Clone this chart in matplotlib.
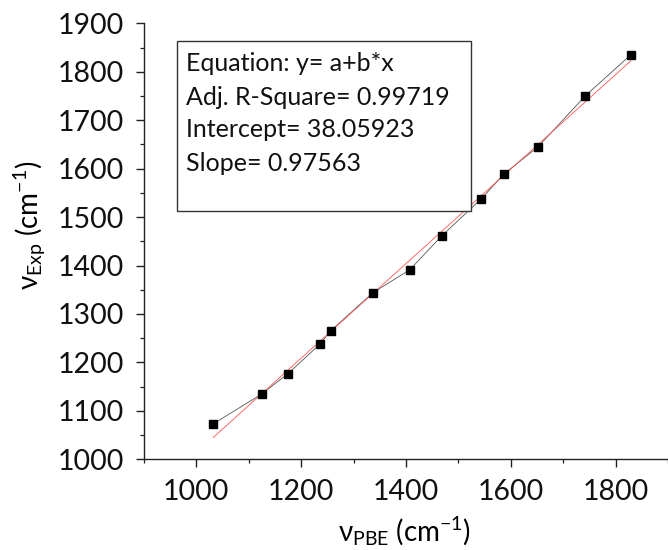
import matplotlib.pyplot as plt
from matplotlib.patches import Rectangle
from matplotlib.ticker import MultipleLocator

# Data
nu_pbe = [1032, 1125, 1175, 1235, 1256, 1337, 1407, 1468, 1544, 1587, 1652, 1742, 1829]
nu_exp = [1073, 1135, 1177, 1237, 1265, 1344, 1391, 1461, 1538, 1589, 1645, 1750, 1835]

# Linear fit parameters as printed in the box
intercept = 38.05923
slope = 0.97563
adj_r2 = 0.99719

box_lines = [
    "Equation: y= a+b*x",
    "Adj. R-Square= %.5f" % adj_r2,
    "Intercept= %.5f" % intercept,
    "Slope= %.5f" % slope,
]

plt.rcParams['font.family'] = ['Lato', 'DejaVu Sans']
plt.rcParams['mathtext.fontset'] = 'custom'
plt.rcParams['mathtext.rm'] = 'Lato'
plt.rcParams['mathtext.it'] = 'Lato:italic'
plt.rcParams['mathtext.fallback'] = 'stixsans'

fig = plt.figure(figsize=(6.68, 5.5), dpi=100)
ax = fig.add_axes([144 / 668, 1 - 459.3 / 550, 524 / 668, 436 / 550])

# connecting line + markers
ax.plot(nu_pbe, nu_exp, color='#555555', lw=0.6, zorder=2)
ax.plot(nu_pbe, nu_exp, ls='none', marker='s', ms=5.8, color='black', zorder=3)

# fitted line
fx = [nu_pbe[0], nu_pbe[-1]]
fy = [intercept + slope * v for v in fx]
ax.plot(fx, fy, color='#ff5555', lw=0.6, zorder=2.5)

ax.set_xlim(900, 1900)
ax.set_ylim(1000, 1900)
ax.xaxis.set_major_locator(MultipleLocator(200))
ax.xaxis.set_minor_locator(MultipleLocator(100))
ax.yaxis.set_major_locator(MultipleLocator(100))
ax.yaxis.set_minor_locator(MultipleLocator(50))

for side in ['top', 'right']:
    ax.spines[side].set_visible(False)
for side in ['left', 'bottom']:
    ax.spines[side].set_linewidth(1.0)
    ax.spines[side].set_color('#222222')

ax.tick_params(which='major', direction='out', length=5.5, width=1.0, labelsize=20.5,
               pad=9, color='#222222', labelcolor='#111111')
ax.tick_params(which='minor', direction='out', length=3, width=0.9, color='#222222')

# text box
ax.add_patch(Rectangle((0.063, 0.5695), 0.561, 0.39, transform=ax.transAxes,
                       facecolor='white', edgecolor='#333333', lw=1.0, zorder=4))
line_y = [0.9089, 0.8309, 0.7553, 0.6773]
for s, yy in zip(box_lines, line_y):
    ax.text(0.080, yy, s, transform=ax.transAxes, ha='left', va='center',
            fontsize=18, color='#111111', zorder=5)

# axis labels
fig.text(30 / 668, 1 - 225 / 550, r'$\mathrm{\nu_{Exp}}$ (cm$^{-1}$)', rotation=90,
         ha='center', va='center', fontsize=20)
fig.text(404 / 668, 8 / 550, r'$\mathrm{\nu_{PBE}}$ (cm$^{-1}$)',
         ha='center', va='baseline', fontsize=20)

fig.savefig('out.png', dpi=100)
